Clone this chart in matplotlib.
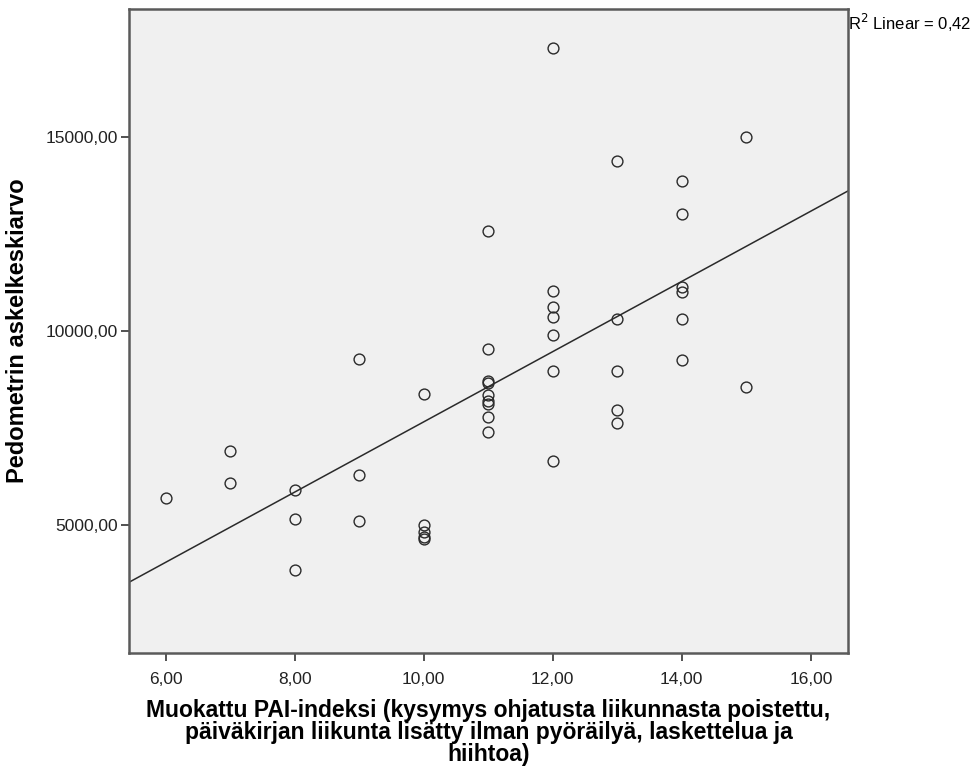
import matplotlib.pyplot as plt
import numpy as np

plt.rcParams['font.family'] = ['Liberation Sans', 'DejaVu Sans']

# PAI index (x) and pedometer step average (y)
pai = [6,
       7, 7,
       8, 8, 8,
       9, 9, 9,
       10, 10, 10, 10, 10,
       11, 11, 11, 11, 11, 11, 11, 11, 11,
       12, 12, 12, 12, 12, 12, 12,
       13, 13, 13, 13, 13,
       14, 14, 14, 14, 14, 14,
       15, 15]
steps = [5690,
         6920, 6080,
         5890, 5150, 3830,
         9280, 6300, 5090,
         8370, 4990, 4820, 4690, 4640,
         12580, 9550, 8710, 8650, 8350, 8200, 8110, 7780, 7410,
         17300, 11030, 10620, 10360, 9890, 8960, 6650,
         14400, 10310, 8960, 7970, 7640,
         13870, 13020, 11150, 11020, 10310, 9250,
         15020, 8560]
r2_text = 'R$^2$ Linear = 0,42'
x_ticks = [6, 8, 10, 12, 14, 16]
y_ticks = [5000, 10000, 15000]

fig = plt.figure(figsize=(9.76, 7.72), dpi=100)
ax = fig.add_axes([0.1322, 0.1541, 0.7367, 0.8342])
ax.set_facecolor('#f0f0f0')

ax.plot(pai, steps, 'o', markersize=7.8, markerfacecolor='none',
        markeredgecolor='#2a2a2a', markeredgewidth=1.0)

# linear fit line across the whole axis
xlim = (5.434, 16.577)
slope, intercept = np.polyfit(pai, steps, 1)
xx = np.array(xlim)
ax.plot(xx, slope * xx + intercept, color='#2a2a2a', linewidth=1.1)

ax.set_xlim(xlim)
ax.set_ylim(1693, 18315)
ax.set_xticks(x_ticks)
ax.set_xticklabels([f'{v:.2f}'.replace('.', ',') for v in x_ticks])
ax.set_yticks(y_ticks)
ax.set_yticklabels([f'{v:.2f}'.replace('.', ',') for v in y_ticks])
ax.tick_params(direction='out', length=6, width=1.2, color='#333333',
               labelsize=12.5, labelcolor='#222222', pad=2)
ax.tick_params(axis='x', pad=8)

for side in ['left', 'bottom', 'right', 'top']:
    ax.spines[side].set_color('#5a5a5a')
    ax.spines[side].set_linewidth(1.8)

ax.set_ylabel('Pedometrin askelkeskiarvo', fontsize=17, fontweight='bold',
              labelpad=12)
ax.set_xlabel('Muokattu PAI-indeksi (kysymys ohjatusta liikunnasta poistettu,\n'
              'päiväkirjan liikunta lisätty ilman pyöräilyä, laskettelua ja\n'
              'hiihtoa)', fontsize=16.5, fontweight='bold', labelpad=8,
              linespacing=0.95)

fig.text(0.8689, 0.970, r2_text, fontsize=12, ha='left', va='center')

plt.savefig('out.png', dpi=100)
